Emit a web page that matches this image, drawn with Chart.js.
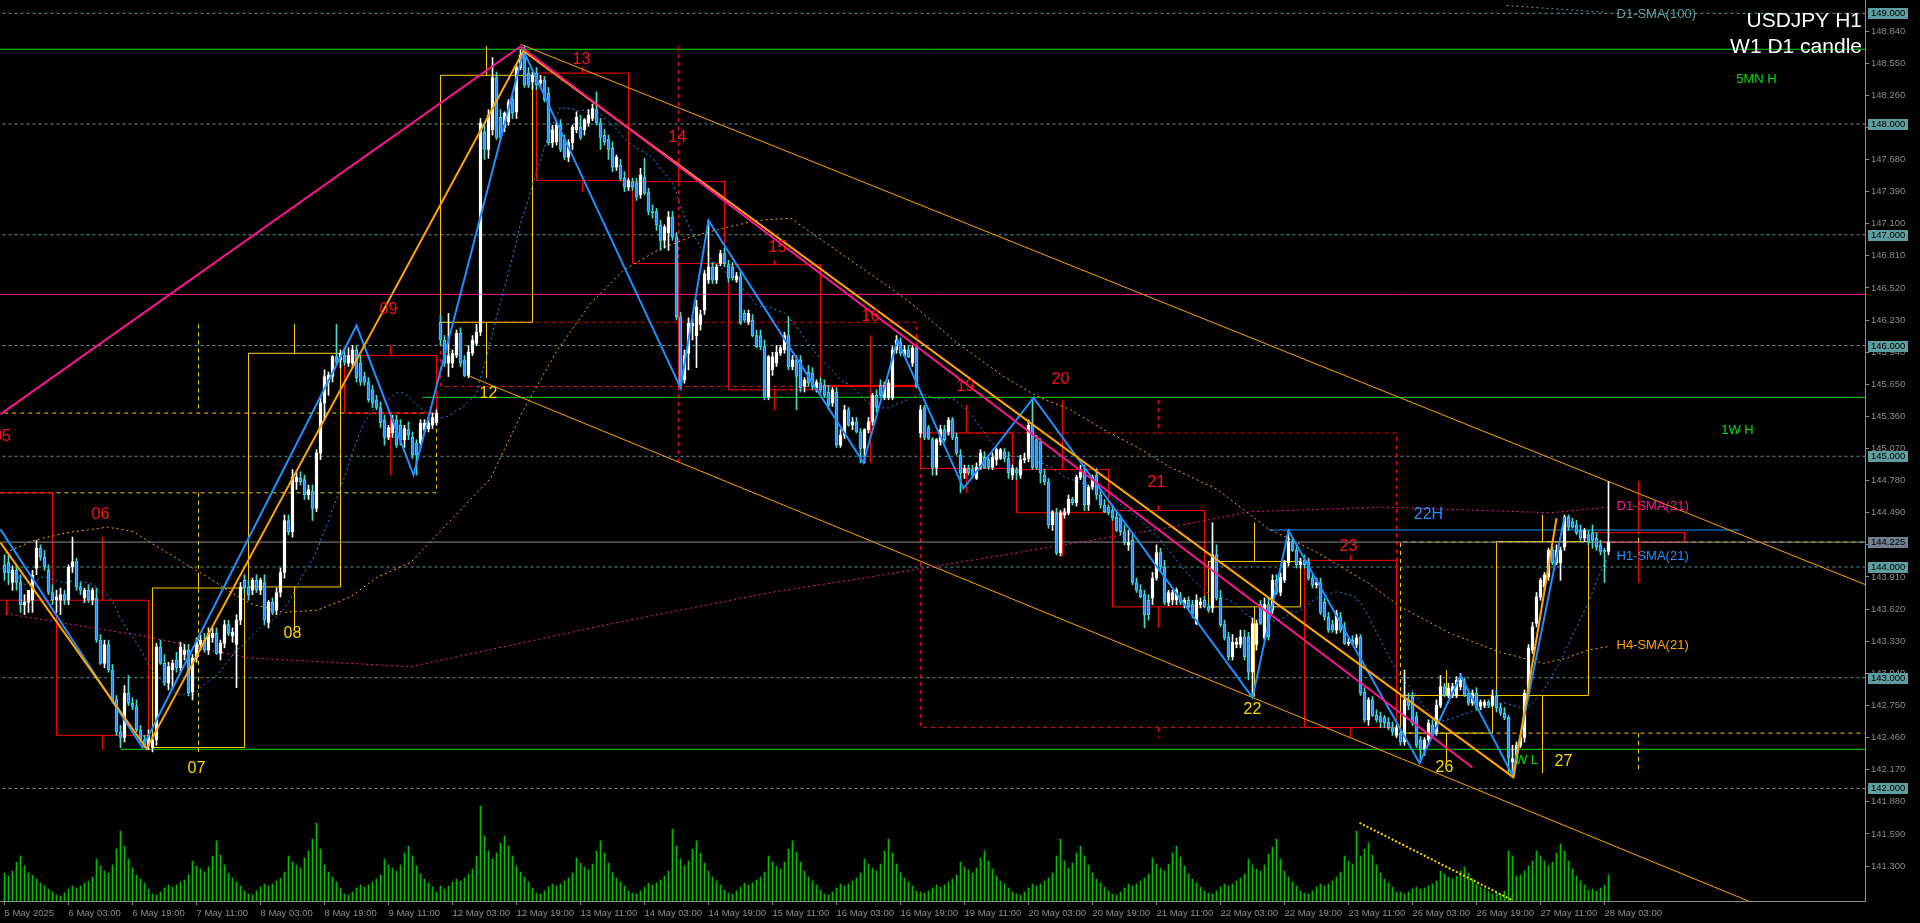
<!DOCTYPE html>
<html><head><meta charset="utf-8"><title>USDJPY H1</title>
<script src="https://cdn.jsdelivr.net/npm/chart.js@4.4.1/dist/chart.umd.min.js"></script>
<style>html,body{margin:0;padding:0;background:#000;overflow:hidden;}canvas{display:block;}</style>
</head><body>
<canvas id="c" width="1920" height="923"></canvas>
<script>
// ---------------- H1 candles (bar 0 = 5 May 2025 11:00) ----------------
const open = [
144.02,144.04,143.86,143.97,143.86,143.66,143.68,143.70,143.99,144.17,
144.09,143.97,143.77,143.70,143.70,143.75,143.70,144.00,144.05,143.82,
143.72,143.79,143.70,143.72,143.34,143.13,143.30,143.07,142.80,142.51,
142.46,142.86,142.77,142.74,142.53,142.44,142.39,142.37,142.44,143.28,
143.13,142.95,143.07,143.16,143.09,143.21,143.25,142.87,143.18,143.30,
143.34,143.25,143.36,143.40,143.22,143.31,143.48,143.38,143.30,143.52,
143.88,143.82,143.79,143.88,143.79,143.86,143.50,143.68,143.61,143.77,
143.95,144.42,144.32,144.77,144.80,144.79,144.65,144.68,144.53,145.03,
145.48,145.67,145.72,145.90,145.87,145.91,145.84,145.84,145.96,145.84,
145.72,145.67,145.60,145.51,145.44,145.33,145.17,145.21,145.33,145.28,
145.15,145.24,145.17,145.12,145.12,145.24,145.25,145.28,145.30,146.21,
146.05,145.84,145.84,145.91,146.11,145.87,145.73,145.93,146.02,146.12,
147.93,147.77,147.95,148.42,148.06,147.97,148.02,148.22,148.11,148.51,
148.65,148.46,148.38,148.46,148.37,148.40,148.28,147.83,147.84,147.99,
147.86,147.70,147.83,147.95,147.97,147.95,148.01,148.05,148.13,148.01,
147.90,147.86,147.78,147.61,147.63,147.51,147.43,147.48,147.47,147.36,
147.52,147.38,147.21,147.21,147.09,146.95,147.02,147.16,146.98,146.26,
145.69,145.93,146.18,146.09,146.19,146.32,146.59,146.71,146.59,146.74,
146.83,146.73,146.71,146.59,146.62,146.29,146.21,146.23,146.09,146.09,
145.99,145.53,145.78,145.84,145.93,145.96,146.09,145.81,145.87,145.87,
145.63,145.76,145.75,145.62,145.66,145.64,145.58,145.48,145.58,145.10,
145.19,145.42,145.28,145.31,145.22,145.07,145.24,145.31,145.55,145.64,
145.53,145.53,145.53,145.96,146.03,145.91,145.96,145.84,145.98,145.21,
145.44,145.26,145.15,144.90,145.13,145.24,145.22,145.33,145.17,145.01,
144.85,144.89,144.88,144.80,144.90,144.99,144.97,144.90,144.97,144.98,
145.04,144.98,144.83,144.88,144.83,144.97,144.98,145.28,145.15,145.13,
144.83,144.77,144.38,144.49,144.13,144.47,144.49,144.61,144.58,144.81,
144.86,144.56,144.72,144.83,144.65,144.56,144.54,144.51,144.45,144.44,
144.32,144.20,144.24,143.86,143.79,143.75,143.70,143.72,143.90,144.13,
144.00,143.68,143.70,143.70,143.72,143.66,143.70,143.66,143.49,143.66,
143.70,143.64,143.63,144.11,143.72,143.48,143.37,143.19,143.30,143.30,
143.37,143.37,143.05,143.30,143.66,143.36,143.66,143.61,143.88,143.77,
143.88,144.04,144.23,144.15,144.02,144.06,144.05,143.90,143.84,143.86,
143.68,143.55,143.48,143.43,143.55,143.45,143.31,143.34,143.30,143.37,
142.87,142.62,142.80,142.66,142.65,142.64,142.60,142.55,142.48,142.50,
142.42,142.80,142.83,142.65,142.44,142.35,142.44,142.57,142.51,142.75,
142.92,142.84,142.84,142.84,142.92,142.96,142.86,142.77,142.86,142.74,
142.75,142.78,142.75,142.84,142.73,142.68,142.64,142.24,142.27,142.39,
142.46,142.86,143.25,143.49,143.73,143.82,143.91,144.15,144.04,144.04,
144.18,144.45,144.41,144.38,144.33,144.26,144.29,144.31,144.26,144.20,
144.15,144.14];
const high = [
144.11,144.11,144.01,144.02,143.93,143.75,143.79,143.97,144.24,144.20,
144.15,144.02,143.84,143.79,143.81,143.79,144.02,144.27,144.08,143.86,
143.81,143.84,143.81,143.81,143.39,143.34,143.34,143.12,142.84,142.57,
142.93,143.02,142.82,142.80,142.57,142.48,142.53,142.48,143.31,143.34,
143.21,143.14,143.16,143.23,143.32,143.30,143.30,143.21,143.36,143.39,
143.40,143.45,143.45,143.45,143.34,143.52,143.52,143.45,143.57,143.86,
143.93,143.88,143.90,143.93,143.90,143.93,143.70,143.72,143.81,143.99,
144.47,144.47,144.88,144.86,144.86,144.83,144.74,144.74,145.06,145.53,
145.78,145.76,145.91,146.19,145.96,145.98,145.98,146.00,146.00,145.91,
145.76,145.71,145.64,145.55,145.49,145.37,145.28,145.37,145.37,145.33,
145.28,145.31,145.22,145.15,145.33,145.33,145.35,145.39,145.42,146.28,
146.09,146.29,145.96,146.14,146.16,145.91,146.00,146.09,146.19,148.05,
147.99,148.13,148.60,148.47,148.13,148.11,148.22,148.26,148.53,148.67,
148.70,148.51,148.47,148.51,148.44,148.43,148.33,147.99,148.02,148.04,
147.90,147.86,147.99,148.11,148.08,148.05,148.13,148.18,148.29,148.05,
147.95,147.90,147.84,147.72,147.68,147.57,147.51,147.51,147.51,147.60,
147.69,147.42,147.27,147.24,147.13,147.09,147.21,147.21,147.02,146.30,
145.96,146.25,146.25,146.41,146.32,146.68,147.13,146.75,146.73,146.86,
146.88,146.77,146.75,146.66,146.66,146.32,146.32,146.28,146.14,146.14,
146.05,145.91,145.94,146.00,146.00,146.12,146.26,145.91,145.91,145.91,
145.71,145.82,145.80,145.69,145.71,145.69,145.64,145.62,145.62,145.24,
145.46,145.44,145.35,145.35,145.25,145.25,145.35,145.57,145.60,145.69,
145.67,145.69,145.99,146.09,146.07,146.00,146.00,146.00,146.00,145.46,
145.46,145.28,145.17,145.16,145.28,145.28,145.35,145.35,145.21,145.06,
144.92,144.92,144.92,144.94,145.06,145.04,145.01,145.03,145.07,145.07,
145.07,145.04,144.92,144.90,145.01,145.03,145.33,145.51,145.19,145.16,
144.88,144.80,144.51,144.53,144.51,144.53,144.65,144.63,144.83,144.92,
144.92,144.74,144.83,144.89,144.70,144.61,144.56,144.56,144.50,144.47,
144.38,144.33,144.29,143.90,143.84,143.79,143.75,143.95,144.20,144.17,
144.06,143.79,143.79,143.81,143.77,143.72,143.73,143.70,143.75,143.72,
143.74,143.67,144.40,144.20,143.79,143.52,143.41,143.39,143.36,143.43,
143.43,143.41,143.54,143.52,143.70,143.72,143.72,143.93,143.93,143.95,
144.06,144.33,144.26,144.20,144.08,144.11,144.08,143.93,143.90,143.90,
143.72,143.59,143.52,143.61,143.59,143.50,143.36,143.38,143.39,143.39,
142.91,142.82,142.83,142.71,142.69,142.66,142.64,142.60,142.57,142.53,
143.07,142.86,142.87,142.69,142.47,142.46,142.62,142.62,142.80,143.02,
142.95,142.95,142.95,143.01,143.04,143.00,142.89,142.89,142.91,142.80,
142.80,142.80,142.89,142.89,142.77,142.73,142.66,142.39,142.42,142.48,
142.89,143.30,143.50,143.77,143.90,143.95,144.17,144.18,144.20,144.18,
144.47,144.47,144.44,144.42,144.38,144.35,144.33,144.38,144.31,144.24,
144.17,144.77];
const low = [
143.88,143.84,143.79,143.79,143.59,143.57,143.59,143.59,143.93,144.06,
143.97,143.75,143.66,143.59,143.57,143.66,143.66,143.95,143.79,143.75,
143.68,143.68,143.66,143.32,143.12,143.09,143.05,142.77,142.48,142.37,
142.42,142.75,142.71,142.51,142.42,142.37,142.35,142.33,142.39,143.12,
142.93,142.89,142.91,143.05,143.05,143.16,142.84,142.80,143.14,143.25,
143.23,143.21,143.32,143.21,143.16,143.27,143.38,143.32,142.91,143.48,
143.77,143.70,143.75,143.77,143.75,143.48,143.45,143.57,143.57,143.73,
143.90,144.29,144.27,144.70,144.74,144.61,144.61,144.42,144.50,144.97,
145.33,145.55,145.67,145.82,145.80,145.82,145.81,145.80,145.67,145.64,
145.64,145.49,145.44,145.42,145.26,145.10,145.15,145.17,145.08,145.10,
145.08,145.15,144.98,144.83,145.08,145.22,145.22,145.25,145.28,146.00,
145.81,145.72,145.80,145.89,145.81,145.72,145.71,145.91,146.00,146.09,
147.68,147.69,147.90,147.86,147.86,147.93,147.99,148.05,148.05,148.49,
148.33,148.33,148.31,148.31,148.33,148.20,147.81,147.79,147.81,147.75,
147.68,147.66,147.77,147.92,147.86,147.90,147.98,148.03,147.99,147.77,
147.81,147.68,147.57,147.58,147.49,147.39,147.40,147.40,147.31,147.33,
147.36,147.18,147.15,147.04,146.86,146.88,146.86,146.95,146.23,145.60,
145.66,145.78,146.05,145.80,146.14,146.28,146.56,146.56,146.56,146.72,
146.71,146.57,146.59,146.57,146.19,146.21,146.19,146.08,145.98,145.96,
145.51,145.51,145.73,145.81,145.91,145.93,145.78,145.78,145.42,145.58,
145.58,145.63,145.60,145.58,145.57,145.53,145.42,145.45,145.08,145.08,
145.16,145.27,145.24,145.21,144.94,144.94,145.21,145.28,145.40,145.53,
145.51,145.51,145.51,145.93,145.91,145.90,145.89,145.81,145.62,145.17,
145.15,145.15,144.83,144.83,145.10,145.13,145.19,145.15,145.01,144.67,
144.80,144.83,144.80,144.79,144.88,144.89,144.88,144.88,144.92,144.97,
144.95,144.80,144.79,144.79,144.80,144.94,144.95,144.88,144.88,144.76,
144.74,144.35,144.33,144.11,144.10,144.44,144.47,144.56,144.55,144.79,
144.51,144.51,144.70,144.61,144.53,144.49,144.47,144.42,144.32,144.29,
144.20,144.15,143.84,143.77,143.72,143.45,143.52,143.66,143.88,143.97,
143.66,143.65,143.66,143.66,143.66,143.63,143.61,143.54,143.48,143.63,
143.63,143.59,143.59,143.70,143.46,143.34,143.16,143.16,143.27,143.27,
143.16,142.98,142.83,143.25,143.48,143.34,143.34,143.58,143.75,143.74,
143.86,144.01,144.14,143.99,143.99,143.99,143.88,143.81,143.81,143.57,
143.52,143.41,143.41,143.40,143.41,143.30,143.29,143.30,143.27,142.84,
142.60,142.57,142.65,142.60,142.55,142.55,142.53,142.48,142.46,142.39,
142.39,142.71,142.57,142.37,142.23,142.30,142.39,142.46,142.48,142.73,
142.83,142.82,142.82,142.82,142.89,142.83,142.75,142.75,142.71,142.71,
142.73,142.73,142.74,142.69,142.66,142.62,142.14,142.14,142.26,142.37,
142.42,142.83,143.22,143.46,143.70,143.79,143.88,144.02,144.02,143.88,
144.15,144.33,144.35,144.29,144.24,144.23,144.20,144.17,144.15,144.11,
143.86,144.11];
const close = [
143.95,143.95,143.97,143.86,143.66,143.68,143.79,143.93,144.17,144.09,
144.00,143.77,143.70,143.73,143.75,143.70,144.00,144.05,143.82,143.79,
143.79,143.70,143.79,143.34,143.13,143.30,143.07,142.80,142.51,142.46,
142.86,142.77,142.74,142.53,142.44,142.39,142.48,142.44,143.28,143.13,
142.95,143.10,143.13,143.09,143.28,143.25,142.86,143.18,143.32,143.34,
143.25,143.40,143.40,143.22,143.31,143.48,143.40,143.41,143.52,143.82,
143.81,143.75,143.88,143.79,143.88,143.52,143.68,143.59,143.77,143.95,
144.42,144.32,144.81,144.81,144.77,144.65,144.70,144.53,145.03,145.48,
145.72,145.73,145.90,145.85,145.93,145.85,145.91,145.96,145.71,145.67,
145.67,145.51,145.48,145.44,145.30,145.17,145.26,145.33,145.10,145.15,
145.25,145.19,145.01,145.01,145.30,145.30,145.30,145.35,145.39,146.05,
145.84,145.91,145.93,146.11,145.84,145.73,145.94,146.05,146.12,148.01,
147.77,148.08,148.42,147.88,147.88,148.10,148.20,148.10,148.51,148.62,
148.35,148.35,148.44,148.35,148.40,148.22,147.83,147.95,147.99,147.77,
147.70,147.83,147.97,148.06,147.88,148.04,148.08,148.14,148.01,147.88,
147.84,147.77,147.61,147.70,147.51,147.43,147.49,147.43,147.34,147.54,
147.38,147.21,147.20,147.09,146.95,147.07,147.16,146.98,146.26,145.64,
145.91,146.20,146.20,146.35,146.28,146.65,146.71,146.59,146.71,146.83,
146.74,146.61,146.61,146.63,146.20,146.23,146.29,146.09,145.99,145.99,
145.53,145.90,145.90,145.94,145.98,146.09,145.81,145.87,145.72,145.62,
145.69,145.66,145.63,145.67,145.60,145.55,145.46,145.60,145.10,145.19,
145.42,145.28,145.31,145.22,145.07,145.24,145.31,145.55,145.44,145.55,
145.64,145.66,145.96,146.05,145.93,145.96,145.90,145.98,145.63,145.42,
145.17,145.16,144.90,145.15,145.24,145.15,145.33,145.17,145.03,144.85,
144.89,144.85,144.83,144.90,145.03,144.90,144.90,144.99,145.06,145.06,
144.98,144.85,144.89,144.85,144.97,144.98,145.28,144.90,144.90,144.85,
144.77,144.38,144.50,144.13,144.49,144.50,144.61,144.58,144.81,144.86,
144.56,144.72,144.81,144.65,144.56,144.50,144.49,144.44,144.33,144.32,
144.22,144.22,143.86,143.79,143.73,143.57,143.57,143.90,144.13,144.00,
143.68,143.77,143.77,143.79,143.68,143.70,143.64,143.58,143.70,143.68,
143.64,143.61,144.11,143.72,143.48,143.36,143.19,143.32,143.32,143.37,
143.19,143.05,143.49,143.49,143.49,143.66,143.37,143.88,143.77,143.91,
144.04,144.23,144.15,144.02,144.05,144.02,143.90,143.84,143.86,143.59,
143.55,143.43,143.43,143.58,143.43,143.31,143.32,143.31,143.36,142.86,
142.62,142.80,142.66,142.62,142.60,142.59,142.55,142.51,142.55,142.42,
142.80,142.75,142.59,142.39,142.35,142.44,142.59,142.48,142.75,142.92,
142.84,142.91,142.92,142.98,142.98,142.84,142.77,142.86,142.73,142.78,
142.78,142.75,142.84,142.73,142.68,142.64,142.28,142.27,142.39,142.46,
142.86,143.27,143.46,143.73,143.88,143.93,144.15,144.04,144.15,144.15,
144.45,144.36,144.36,144.31,144.26,144.33,144.23,144.24,144.18,144.14,
144.14,144.225];
// tick volume per H1 bar
const volume = [
2800,2500,3000,3900,4500,3500,2800,2600,2200,1800,1500,1200,900,
600,500,800,1200,1500,1300,1500,1800,2000,2400,4200,3500,3000,2800,3600,5200,7000,5500,4200,3300,2600,2200,1800,1200,
700,600,900,1300,1600,1400,1600,1900,2100,2600,4000,3500,3200,2900,3400,4500,6000,4600,3600,2800,2300,1900,1500,1000,
700,600,1000,1400,1700,1500,1700,2000,2300,2900,4500,3900,3600,3300,4300,5000,6200,7800,5200,3600,2900,2400,1900,1300,
700,600,900,1300,1600,1400,1600,1900,2200,2600,4200,3600,3300,3000,3600,4800,5500,4500,3500,2700,2200,1800,1400,900,
1500,1200,1500,1900,2200,2000,2300,2700,3200,4500,9500,6500,5000,4200,4800,5800,6500,5500,4500,3500,2900,2400,1900,1300,
800,700,1000,1400,1700,1500,1700,2000,2300,2800,4300,3800,3400,3100,3700,5000,6000,4800,3800,2900,2300,1900,1500,1000,
800,700,1000,1400,1800,1600,1800,2100,2500,3000,7200,5500,4200,3500,4000,5200,6000,4800,3800,3000,2400,2000,1600,1100,
800,700,1000,1400,1800,1600,1800,2100,2400,2900,4500,3900,3500,3200,3900,5200,6000,4900,3900,3000,2400,2000,1600,1100,
700,600,900,1300,1700,1500,1700,2000,2300,2800,4200,3700,3300,3000,3700,5000,6200,4800,3700,2900,2300,1900,1500,1000,
900,800,1000,1300,1600,1400,1600,1900,2200,2600,3900,3400,3100,2800,3300,4300,5000,4000,3200,2500,2000,1700,1300,900,
700,600,900,1300,1700,1500,1700,2000,2300,2800,4500,6200,4000,3300,3800,4800,5500,4500,3600,2800,2200,1800,1400,1000,
700,600,900,1300,1700,1500,1700,2000,2300,2700,4300,3700,3300,3000,3700,4800,5500,4400,3500,2700,2200,1800,1400,1000,
800,700,1000,1400,1700,1500,1700,2000,2300,2700,4200,3600,3200,3000,3600,4700,5400,6200,4200,3000,2400,1900,1500,1000,
800,700,1000,1400,1700,1500,1700,2000,2400,2900,4500,4000,3700,7000,4500,5200,5800,4600,3600,2800,2200,1800,1400,900,
900,700,900,1200,1400,1200,1300,1500,1700,2000,3000,2700,2400,2200,2500,3000,3400,2800,2200,1700,1400,1200,1000,700,
800,700,1000,5000,4500,2500,2600,3000,3500,4000,5000,4500,4000,3500,3900,4800,5700,5000,4000,3200,2500,2000,1600,1100,
1200,1000,1300,1600,2600];

// ---------------- axes ----------------
const tickBars = [0,16,32,48,64,80,96,112,128,144,160,176,192,208,224,240,256,272,288,304,320,336,352,368,384,400];
const tickLabels = ['5 May 2025','6 May 03:00','6 May 19:00','7 May 11:00','8 May 03:00','8 May 19:00','9 May 11:00',
 '12 May 03:00','12 May 19:00','13 May 11:00','14 May 03:00','14 May 19:00','15 May 11:00','16 May 03:00','16 May 19:00',
 '19 May 11:00','20 May 03:00','20 May 19:00','21 May 11:00','22 May 03:00','22 May 19:00','23 May 11:00',
 '26 May 03:00','26 May 19:00','27 May 11:00','28 May 03:00'];
const priceTicks = [148.84,148.55,148.26,147.97,147.68,147.39,147.10,146.81,146.52,146.23,145.94,145.65,145.36,145.07,
 144.78,144.49,144.20,143.91,143.62,143.33,143.04,142.75,142.46,142.17,141.88,141.59,141.30];
const roundLevels = [149,148,147,146,145,144,143,142];
const bidPrice = 144.225;
const priceTop = 149.12, priceBottom = 140.984;
const volumeAxisMax = 90100;

// ---------------- D1 / W1 candle boxes ----------------
const dayStarts = [-11,13,37,61,85,109,133,157,181,205,229,253,277,301,325,349,373,397];
const weekStarts = [-11,109,229,349];
const firstDayOpen = 144.67;

// ---------------- drawn objects (bar index, price) ----------------
const blueZZx = [-1,34.5,88,102.25,129.75,169,176,214.75,223.25,239.75,257.25,312,321,353.75,364,377,390];
const blueZZp = [144.34,142.37,146.18,144.83,148.66,145.62,147.13,144.94,146.05,144.71,145.53,142.82,144.33,142.23,143.02,142.12,144.45];
const orangeZZx = [-1,35.5,129.75,377.25,388];
const orangeZZp = [144.22,142.36,148.66,142.10,144.44];
const pinkZZx = [-1,129,367];
const pinkZZp = [145.38,148.70,142.19];
const chanUpX = [129,465.25], chanUpP = [148.72,143.84];
const chanLoX = [115.75,465.25], chanLoP = [145.73,140.55];
const greenLevels = [148.675,145.532,142.354];
const greenFrom = [-2,104.5,29];
const magentaLevel = 146.462;
const level22H = 144.334, level22HFrom = 316, level22HTo = 433.75;
const volTrendX = [338.75,377], volTrendP = [141.69,140.99];
const d1Sma100X = [375.5,400], d1Sma100P = [149.07,149.01];
const h4SmaX = [0.25,7.25,15.75,25.75,32.25,36.5,44.75,50.75,55.75,61.5,69.75,78.25,86.5,93.25,101.5,121.5,129.75,138.25,146.5,154.75,163.25,171.5,179.75,188.25,196.5,225.75,237.25,249.75,258.25,266.5,274.75,283.25,291.5,303.25,315.75,328.25,340.75,349,361.5,374,384.75,390.75,395.75,400.75];
const h4SmaP = [144.13,144.24,144.31,144.36,144.32,144.22,144.04,143.91,143.79,143.67,143.59,143.61,143.73,143.91,144.04,144.80,145.42,145.96,146.38,146.68,146.86,146.98,147.06,147.13,147.15,146.41,146.05,145.72,145.54,145.42,145.24,145.08,144.90,144.70,144.35,144.13,143.86,143.64,143.40,143.23,143.13,143.18,143.25,143.28];
const d1SmaX = [0.25,35.75,60.75,101.5,152,191.5,216.5,241.5,266.5,291.5,311.5,344.75,386.5,400.75];
const d1SmaP = [143.58,143.37,143.18,143.10,143.49,143.77,143.91,144.06,144.21,144.36,144.50,144.54,144.49,144.54];

// ---------------- text labels: [text, bar, price] ----------------
const redDayLabels = [['05',-0.6,145.18],['06',24,144.47],['09',96,146.32],['13',144.25,148.58],['14',168.25,147.88],['15',193.25,146.88],
 ['16',216.5,146.26],['19',240.25,145.63],['20',264,145.69],['21',288,144.76],['23',336,144.18]];
const yellowDayLabels = [['07',48,142.18],['08',72,143.40],['12',121,145.57],['22',312,142.71],['26',360,142.19],['27',389.75,142.24]];
const greenLabels = [['5MN H',438,148.40],['1W H',433.25,145.23],['W L',380.5,142.25]];
const smaLabels = [['D1-SMA(21)',403,144.55],['H1-SMA(21)',403,144.10],['H4-SMA(21)',403,143.29],['D1-SMA(100)',403,148.99]];
const label22H = ['22H',356,144.47];

// =====================================================================
const FONT = "'Liberation Sans', Arial, sans-serif";
const N = close.length;
const YELLOW = '#FFCC00', RED = '#FF0000';

function pts(xs, ps){ return xs.map((x,i)=>({x, y:ps[i]})); }
function aggregate(s, len){
  const a = Math.max(s,0), b = Math.min(s+len-1, N-1);
  const o = s < 0 ? firstDayOpen : open[s];
  let h = o, l = o;
  for (let i=a;i<=b;i++){ if (high[i]>h) h=high[i]; if (low[i]<l) l=low[i]; }
  return {s, e:s+len-1, o, h, l, c:close[b]};
}
function boxPaths(list){
  const up = [], dn = [], upW = [], dnW = [];
  list.forEach(k=>{
    const tgt = k.c >= k.o ? up : dn, tw = k.c >= k.o ? upW : dnW;
    tgt.push({x:k.s,y:k.o},{x:k.e,y:k.o},{x:k.e,y:k.c},{x:k.s,y:k.c},{x:k.s,y:k.o},{x:k.s,y:null});
    const m = (k.s+k.e)/2, top = Math.max(k.o,k.c), bot = Math.min(k.o,k.c);
    tw.push({x:m,y:k.h},{x:m,y:top},{x:m,y:null},{x:m,y:bot},{x:m,y:k.l},{x:m,y:null});
  });
  return {up, dn, upW, dnW};
}
const days = boxPaths(dayStarts.map(s=>aggregate(s,24)));
const weeks = boxPaths(weekStarts.map(s=>aggregate(s,120)));

const sma21 = close.map((c,i)=>{ const a=Math.max(0,i-20); let s=0; for(let k=a;k<=i;k++) s+=close[k]; return {x:i, y:s/(i-a+1)}; });

function line(data, color, width, dash, order){
  return {type:'line', data, borderColor:color, borderWidth:width, borderDash:dash||[], pointRadius:0, fill:false,
    tension:0, spanGaps:false, order, xAxisID:'x', yAxisID:'y'};
}
function hline(p, from, to){ return [{x:from,y:p},{x:to,y:p}]; }

const bull = i => close[i] >= open[i];
const datasets = [
  // zigzags on top
  line(pts(pinkZZx,pinkZZp), '#FF1493', 2, [], 0),
  line(pts(orangeZZx,orangeZZp), '#FFA500', 2, [], 0),
  line(pts(blueZZx,blueZZp), '#1E90FF', 2, [], 0),
  // candles
  {type:'bar', data: open.map((o,i)=>({x:i, y:[o, close[i]]})), backgroundColor: open.map((o,i)=>bull(i)?'#FFFFFF':'#1E90FF'),
   borderColor: open.map((o,i)=>bull(i)?'#FFFFFF':'#40E0D0'), borderWidth:1, borderSkipped:false, barThickness:3, grouped:false, order:1,
   xAxisID:'x', yAxisID:'y'},
  {type:'bar', data: open.map((o,i)=>({x:i, y:[low[i], high[i]]})), backgroundColor: open.map((o,i)=>bull(i)?'#FFFFFF':'#40E0D0'),
   borderWidth:0, barThickness:1, grouped:false, order:2, xAxisID:'x', yAxisID:'y'},
  // moving averages
  line(sma21, '#1E90FF', 1, [2,3], 3),
  line(pts(h4SmaX,h4SmaP), '#FFA500', 1, [2,3], 3),
  line(pts(d1SmaX,d1SmaP), '#FF1493', 1, [2,3], 3),
  line(pts(d1Sma100X,d1Sma100P), '#5F9EA0', 1, [2,3], 3),
  // bid line above weekly box edges
  line(hline(bidPrice,-2,470), '#8C8C8C', 1, [], 4),
  // channels
  line(pts(chanUpX,chanUpP), '#FFA500', 1, [], 4),
  line(pts(chanLoX,chanLoP), '#FFA500', 1, [], 4),
  line(pts(volTrendX,volTrendP), '#FFD700', 2, [2,2], 4),
  // D1 & W1 candles
  line(days.up, YELLOW, 1, [], 5), line(days.dn, RED, 1, [], 5),
  line(days.upW, YELLOW, 1, [], 5), line(days.dnW, RED, 1, [], 5),
  line(weeks.up, YELLOW, 1, [4,4], 5), line(weeks.dn, RED, 1, [4,4], 5),
  line(weeks.upW, YELLOW, 1, [4,4], 5), line(weeks.dnW, RED, 1, [4,4], 5),
  // horizontal levels
  ...greenLevels.map((p,i)=>line(hline(p, greenFrom[i], 470), '#00E000', 1, [], 6)),
  line(hline(magentaLevel,-2,470), '#FF1493', 1, [], 6),
  line(hline(level22H, level22HFrom, level22HTo), '#1E90FF', 1, [], 6),
  ...roundLevels.map(p=>line(hline(p,-2,470), '#5F9EA0', 1, [3,3], 7)),
  // volume histogram
  {type:'bar', data: volume.map((v,i)=>({x:i, y:v})), backgroundColor:'#00C000', borderWidth:0, barThickness:1, grouped:false,
   order:8, xAxisID:'x', yAxisID:'yv'},
];

const overlay = {
  id:'overlay',
  afterDatasetsDraw(chart){
    const {ctx, chartArea:a, scales:{x,y}} = chart;
    ctx.save();
    ctx.beginPath(); ctx.rect(a.left,a.top,a.right-a.left,a.bottom-a.top); ctx.clip();
    ctx.textAlign='center'; ctx.textBaseline='middle';
    const put = (arr, color, size, align) => { ctx.fillStyle=color; ctx.font=`${size}px ${FONT}`; ctx.textAlign=align||'center';
      arr.forEach(([t,b,p])=>ctx.fillText(t, x.getPixelForValue(b), y.getPixelForValue(p))); };
    put(redDayLabels, '#FF1010', 16);
    put(yellowDayLabels, '#FFD700', 16);
    put(greenLabels, '#00E000', 13);
    put([label22H], '#1E90FF', 16);
    ctx.font=`13px ${FONT}`; ctx.textAlign='left';
    const smaCols = ['#FF1493','#1E90FF','#FFA500','#5F9EA0'];
    smaLabels.forEach(([t,b,p],i)=>{ ctx.fillStyle=smaCols[i]; ctx.fillText(t, x.getPixelForValue(b), y.getPixelForValue(p)); });
    // title
    ctx.fillStyle='#FFFFFF'; ctx.font=`21px ${FONT}`; ctx.textAlign='right'; ctx.textBaseline='alphabetic';
    ctx.fillText('USDJPY H1', a.right-3, 27);
    ctx.fillText('W1 D1 candle', a.right-3, 53);
    ctx.restore();
  },
  afterDraw(chart){
    const {ctx, chartArea:a, scales:{y}} = chart;
    ctx.save();
    ctx.font=`9.5px ${FONT}`; ctx.textAlign='left'; ctx.textBaseline='middle';
    const tag = (v, bg, fg) => { const py = Math.round(y.getPixelForValue(v));
      ctx.fillStyle=bg; ctx.fillRect(a.right+3, py-5, 40, 11);
      ctx.fillStyle=fg; ctx.fillText(v.toFixed(3), a.right+6, py+0.5); };
    roundLevels.forEach(v=>tag(v,'#5F9EA0','#000000'));
    tag(bidPrice,'#708090','#000000');
    ctx.restore();
  }
};

new Chart(document.getElementById('c'), {
  type:'bar',
  data:{datasets},
  options:{
    responsive:false, animation:false, devicePixelRatio:1,
    layout:{padding:0},
    plugins:{legend:{display:false}, tooltip:{enabled:false}},
    scales:{
      x:{type:'linear', min:-1.125, max:465.125, offset:false,
         afterBuildTicks:s=>{ s.ticks = tickBars.map(v=>({value:v})); },
         ticks:{color:'#8C8C8C', font:{family:FONT,size:9.5}, autoSkip:false, maxRotation:0, minRotation:0, align:'start', padding:3,
                callback:(v,i)=>tickLabels[i]},
         grid:{display:true, drawOnChartArea:false, drawTicks:true, tickLength:4, color:'#8C8C8C', offset:false},
         border:{display:true, color:'#8C8C8C'},
         afterFit:s=>{ s.height=22; s.paddingLeft=0; s.paddingRight=0; }},
      y:{type:'linear', position:'right', min:priceBottom, max:priceTop,
         afterBuildTicks:s=>{ s.ticks = priceTicks.map(v=>({value:v})); },
         ticks:{color:'#8C8C8C', font:{family:FONT,size:9.5}, autoSkip:false, padding:2, callback:v=>Number(v).toFixed(3)},
         grid:{display:true, drawOnChartArea:false, drawTicks:true, tickLength:4, color:'#8C8C8C'},
         border:{display:true, color:'#8C8C8C'},
         afterFit:s=>{ s.width=55; s.paddingTop=0; s.paddingBottom=0; }},
      yv:{type:'linear', display:false, min:0, max:volumeAxisMax}
    }
  },
  plugins:[overlay]
});
</script>
</body></html>
